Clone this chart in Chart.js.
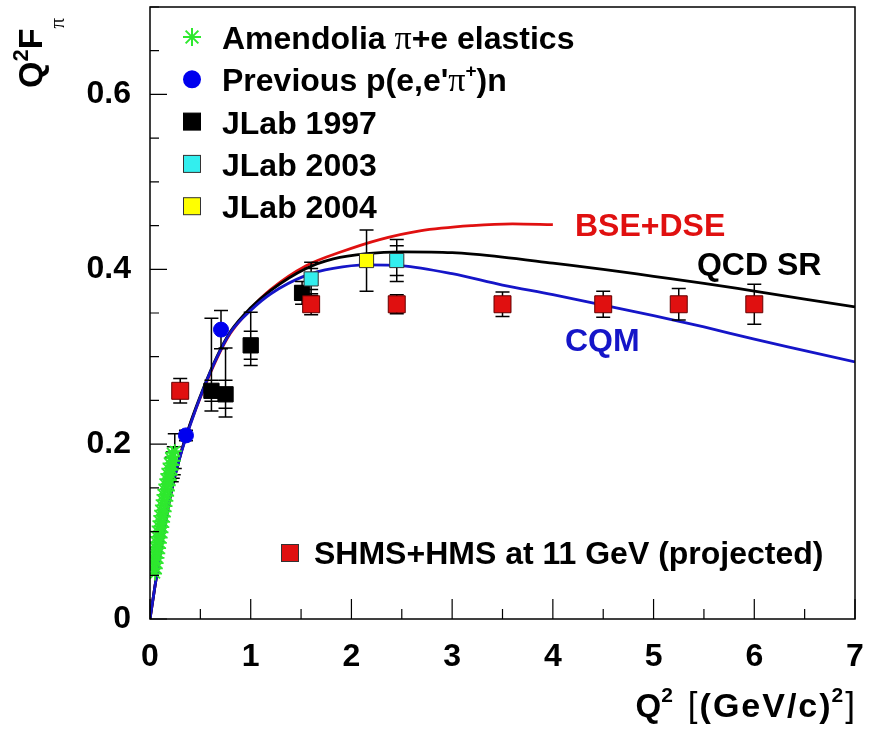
<!DOCTYPE html>
<html>
<head>
<meta charset="utf-8">
<script src="https://cdn.jsdelivr.net/npm/chart.js@4.4.1/dist/chart.umd.min.js"></script>
<style>
  html, body { margin: 0; padding: 0; background: #fff; }
  #chart { display: block; }
</style>
</head>
<body>
<canvas id="chart" width="873" height="735"></canvas>
<script>
// Amendolia pi+e elastics
const amendQ2 = [0.022, 0.050, 0.030, 0.058, 0.038, 0.066, 0.046, 0.074, 0.054, 0.082, 0.062, 0.090, 0.070, 0.098, 0.078, 0.106, 0.086, 0.114, 0.094, 0.122, 0.102, 0.130, 0.110, 0.138, 0.118, 0.146, 0.126, 0.154, 0.134, 0.162, 0.142, 0.170, 0.152, 0.178, 0.162, 0.186, 0.172, 0.196, 0.182, 0.206, 0.194, 0.216, 0.206, 0.226, 0.218, 0.236, 0.230, 0.246];
const amendVal = [0.058, 0.052, 0.064, 0.058, 0.070, 0.064, 0.076, 0.070, 0.082, 0.075, 0.088, 0.081, 0.094, 0.087, 0.100, 0.093, 0.106, 0.099, 0.112, 0.105, 0.118, 0.111, 0.124, 0.117, 0.130, 0.123, 0.136, 0.129, 0.142, 0.135, 0.148, 0.141, 0.154, 0.147, 0.160, 0.153, 0.166, 0.159, 0.172, 0.165, 0.178, 0.171, 0.184, 0.176, 0.190, 0.181, 0.186, 0.192];
const amendErr = [0, 0, 0, 0, 0, 0, 0, 0, 0, 0, 0, 0, 0, 0, 0, 0, 0, 0, 0, 0, 0, 0, 0, 0, 0, 0, 0, 0, 0, 0, 0, 0, 0, 0, 0, 0, 0, 0, 0, 0, 0, 0.014, 0, 0.015, 0, 0.016, 0, 0.02];

// previous p(e,e'pi+)n
const prevQ2 = [0.357, 0.705];
const prevVal = [0.210, 0.331];
const prevErr = [0.006, 0.022];

// JLab 1997
const jlab97Q2 = [0.61, 0.75, 1.0, 1.51];
const jlab97Val = [0.261, 0.257, 0.313, 0.373];
const jlab97ErrUp = [0.083, 0.053, 0.038, 0.013];
const jlab97ErrDown = [0.023, 0.026, 0.023, 0.013];
const jlab97ErrStat = [0.012, 0.016, 0.016, 0.008];

// JLab 2003
const jlab03Q2 = [1.6, 2.45];
const jlab03Val = [0.389, 0.410];
const jlab03Err = [0.019, 0.024];
const jlab03ErrStat = [0.012, 0.017];

// JLab 2004
const jlab04Q2 = [2.15];
const jlab04Val = [0.410];
const jlab04Err = [0.035];

// SHMS+HMS at 11 GeV (projected)
const shmsQ2 = [0.3, 1.6, 2.45, 3.5, 4.5, 5.25, 6.0];
const shmsVal = [0.261, 0.36, 0.36, 0.36, 0.36, 0.36, 0.36];
const shmsErr = [0.014, 0.012, 0.011, 0.014, 0.015, 0.018, 0.023];

// model curves
const bseQ2 = [0, 0.05, 0.1, 0.2, 0.3, 0.4, 0.53, 0.66, 0.8, 1.0, 1.2, 1.55, 1.9, 2.28, 2.68, 3.2, 3.6, 4.0];
const bseVal = [0, 0.038, 0.075, 0.14, 0.187, 0.223, 0.262, 0.297, 0.327, 0.355, 0.377, 0.404, 0.420, 0.434, 0.444, 0.450, 0.452, 0.451];
const curveQ2 = [0, 0.05, 0.1, 0.2, 0.3, 0.4, 0.53, 0.66, 0.8, 1.0, 1.2, 1.55, 1.82, 2.15, 2.5, 3.0, 3.5, 4.0, 4.5, 5.0, 5.5, 6.0, 6.5, 7.0];
const qcdVal = [0, 0.038, 0.075, 0.14, 0.187, 0.224, 0.264, 0.299, 0.329, 0.356, 0.376, 0.401, 0.412, 0.418, 0.420, 0.419, 0.414, 0.407, 0.400, 0.392, 0.384, 0.375, 0.366, 0.357];
const cqmVal = [0, 0.038, 0.075, 0.14, 0.186, 0.222, 0.263, 0.298, 0.328, 0.353, 0.372, 0.393, 0.401, 0.405, 0.404, 0.395, 0.382, 0.371, 0.359, 0.347, 0.334, 0.320, 0.307, 0.294];

const xTicks = { min: 0, max: 7, step: 1 };
const yTicks = { min: 0, max: 0.7, step: 0.05, labelEvery: 0.2 };

const SANS = "'Liberation Sans', Arial, Helvetica, sans-serif";
const SERIF = "'Liberation Serif', 'Times New Roman', serif";
const BOLD = `bold 32px ${SANS}`;
const RED = "#e01010";
const BLUE = "#1515c8";
const GREEN = "#2ee82e";

Chart.defaults.font.family = SANS;
Chart.defaults.color = "#000";

const pts = (xs, ys) => xs.map((x, i) => ({ x, y: ys[i] }));

function richText(ctx, x, y, parts, measureOnly) {
  let cx = x;
  parts.forEach((p) => {
    ctx.font = p.font || BOLD;
    if (!measureOnly) {
      ctx.fillStyle = p.color || "#000";
      ctx.fillText(p.t, cx, y + (p.dy || 0));
    }
    cx += ctx.measureText(p.t).width + (p.gap || 0);
  });
  return cx - x;
}

function drawMarker(ctx, kind, x, y, size) {
  ctx.save();
  ctx.lineWidth = 1;
  if (kind === "star") {
    ctx.strokeStyle = GREEN;
    ctx.lineWidth = 2;
    ctx.beginPath();
    for (let k = 0; k < 4; k++) {
      const a = (k * Math.PI) / 4;
      ctx.moveTo(x - Math.cos(a) * size, y - Math.sin(a) * size);
      ctx.lineTo(x + Math.cos(a) * size, y + Math.sin(a) * size);
    }
    ctx.stroke();
  } else if (kind === "circle") {
    ctx.fillStyle = "#0000ee";
    ctx.beginPath();
    ctx.arc(x, y, size, 0, Math.PI * 2);
    ctx.fill();
  } else {
    ctx.fillStyle = kind;
    ctx.strokeStyle = kind === "#000" ? "#000" : "#333";
    ctx.fillRect(x - size, y - size, size * 2, size * 2);
    ctx.strokeRect(x - size, y - size, size * 2, size * 2);
  }
  ctx.restore();
}

// error bars for one dataset, drawn just before its markers
const errorBars = {
  id: "errorBars",
  beforeDatasetDraw(chart, args) {
    const ds = chart.data.datasets[args.index];
    if (!ds.errUp) return;
    const { ctx, scales: { x, y } } = chart;
    const cap = 7;
    ctx.save();
    ctx.strokeStyle = "#000";
    ctx.lineWidth = 1.5;
    ctx.beginPath();
    ds.data.forEach((p, i) => {
      const up = ds.errUp[i];
      const dn = ds.errDown[i];
      if (!up && !dn) return;
      const px = x.getPixelForValue(p.x);
      const yTop = y.getPixelForValue(p.y + up);
      const yBot = y.getPixelForValue(p.y - dn);
      ctx.moveTo(px, yTop);
      ctx.lineTo(px, yBot);
      const caps = [yTop, yBot];
      if (ds.errStat && ds.errStat[i]) {
        caps.push(y.getPixelForValue(p.y + ds.errStat[i]));
        caps.push(y.getPixelForValue(p.y - ds.errStat[i]));
      }
      caps.forEach((cy) => {
        ctx.moveTo(px - cap, cy);
        ctx.lineTo(px + cap, cy);
      });
    });
    ctx.stroke();
    ctx.restore();
  },
};

const decor = {
  id: "decor",
  afterDraw(chart) {
    const { ctx, chartArea: a, scales: { x, y } } = chart;
    ctx.save();

    // frame and inward ticks
    ctx.strokeStyle = "#000";
    ctx.lineWidth = 1.5;
    ctx.strokeRect(a.left, a.top, a.right - a.left, a.bottom - a.top);
    ctx.lineWidth = 1.2;
    ctx.beginPath();
    for (let k = 0; k <= (xTicks.max - xTicks.min) * 2; k++) {
      const px = x.getPixelForValue(xTicks.min + k * 0.5);
      const len = k % 2 === 0 ? 20 : 10;
      ctx.moveTo(px, a.bottom);
      ctx.lineTo(px, a.bottom - len);
    }
    const nY = Math.round((yTicks.max - yTicks.min) / yTicks.step);
    for (let k = 0; k <= nY; k++) {
      const py = y.getPixelForValue(yTicks.min + k * yTicks.step);
      const len = k % 4 === 0 ? 17 : 9;
      ctx.moveTo(a.left, py);
      ctx.lineTo(a.left + len, py);
    }
    ctx.stroke();

    // legend, top left
    const rows = [
      ["star", [{ t: "Amendolia " }, { t: "\u03c0", font: `34px ${SERIF}` }, { t: "+e elastics" }]],
      ["circle", [{ t: "Previous p(e,e'" }, { t: "\u03c0", font: `34px ${SERIF}` }, { t: "+", font: `bold 19px ${SANS}`, dy: -14 }, { t: ")n" }]],
      ["#000", [{ t: "JLab 1997" }]],
      ["#33eeee", [{ t: "JLab 2003" }]],
      ["#ffff00", [{ t: "JLab 2004" }]],
    ];
    ctx.textBaseline = "alphabetic";
    ctx.textAlign = "left";
    rows.forEach(([kind, parts], i) => {
      const base = 49 + i * 42.3;
      drawMarker(ctx, kind, 192, base - 12, kind === "star" ? 9 : kind === "circle" ? 9 : 8.5);
      richText(ctx, 222, base, parts);
    });

    // projected legend
    drawMarker(ctx, RED, 290, 553, 8.5);
    richText(ctx, 314, 564, [{ t: "SHMS+HMS at 11 GeV (projected)" }]);

    // curve labels
    richText(ctx, x.getPixelForValue(4.22), y.getPixelForValue(0.4377), [{ t: "BSE+DSE", color: RED }]);
    richText(ctx, x.getPixelForValue(5.43), y.getPixelForValue(0.393), [{ t: "QCD SR" }]);
    richText(ctx, x.getPixelForValue(4.12), y.getPixelForValue(0.307), [{ t: "CQM", color: BLUE }]);

    // x axis title, right aligned to frame
    const tf = `bold 34px ${SANS}`;
    const xTitle = [
      { t: "Q", font: `bold 33px ${SANS}` },
      { t: "2", font: `bold 21px ${SANS}`, dy: -15, gap: 15 },
      { t: "[", font: `35px ${SANS}`, gap: 2 },
      { t: "(", font: tf, gap: 2 },
      { t: "G", font: tf, gap: 2 },
      { t: "e", font: tf, gap: 2 },
      { t: "V", font: tf, gap: 2 },
      { t: "/", font: tf, gap: 2 },
      { t: "c", font: tf, gap: 2 },
      { t: ")", font: tf, gap: 1 },
      { t: "2", font: `bold 21px ${SANS}`, dy: -15, gap: 2 },
      { t: "]", font: `35px ${SANS}` },
    ];
    const w = richText(ctx, 0, 0, xTitle, true);
    richText(ctx, a.right - w, 717, xTitle);

    // y axis title, rotated
    ctx.translate(42, 88);
    ctx.rotate(-Math.PI / 2);
    richText(ctx, 0, 0, [
      { t: "Q", font: `bold 34px ${SANS}` },
      { t: "2", font: `bold 22px ${SANS}`, dy: -14 },
      { t: "F", font: `bold 34px ${SANS}` },
      { t: "\u03c0", font: `21px ${SERIF}`, dy: 22 },
    ]);
    ctx.restore();
  },
};

const markerSet = (label, data, style) => Object.assign({ label, data, showLine: false }, style);
const curveSet = (label, xs, ys, color) => ({
  label,
  data: pts(xs, ys),
  showLine: true,
  borderColor: color,
  borderWidth: 2.8,
  pointRadius: 0,
  cubicInterpolationMode: "monotone",
  fill: false,
});

new Chart(document.getElementById("chart"), {
  type: "scatter",
  data: {
    datasets: [
      markerSet("SHMS+HMS at 11 GeV (projected)", pts(shmsQ2, shmsVal), {
        pointStyle: "rect", pointRadius: 12, backgroundColor: RED, borderColor: "#600", borderWidth: 1,
        errUp: shmsErr, errDown: shmsErr,
      }),
      markerSet("JLab 2004", pts(jlab04Q2, jlab04Val), {
        pointStyle: "rect", pointRadius: 10, backgroundColor: "#ffff00", borderColor: "#333", borderWidth: 1,
        errUp: jlab04Err, errDown: jlab04Err,
      }),
      markerSet("JLab 2003", pts(jlab03Q2, jlab03Val), {
        pointStyle: "rect", pointRadius: 10, backgroundColor: "#33eeee", borderColor: "#333", borderWidth: 1,
        errUp: jlab03Err, errDown: jlab03Err, errStat: jlab03ErrStat,
      }),
      markerSet("JLab 1997", pts(jlab97Q2, jlab97Val), {
        pointStyle: "rect", pointRadius: 10.8, backgroundColor: "#000", borderColor: "#000", borderWidth: 1,
        errUp: jlab97ErrUp, errDown: jlab97ErrDown, errStat: jlab97ErrStat,
      }),
      markerSet("Previous p(e,e'\u03c0+)n", pts(prevQ2, prevVal), {
        pointStyle: "circle", pointRadius: 7.5, backgroundColor: "#0000ee", borderColor: "#0000ee", borderWidth: 1,
        errUp: prevErr, errDown: prevErr,
      }),
      markerSet("Amendolia \u03c0+e elastics", pts(amendQ2, amendVal), {
        pointStyle: "star", pointRadius: 7, borderColor: GREEN, backgroundColor: GREEN, borderWidth: 1.8,
        errUp: amendErr, errDown: amendErr,
      }),
      curveSet("CQM", curveQ2, cqmVal, BLUE),
      curveSet("QCD SR", curveQ2, qcdVal, "#000"),
      curveSet("BSE+DSE", bseQ2, bseVal, RED),
    ],
  },
  options: {
    responsive: false,
    animation: false,
    events: [],
    layout: { autoPadding: false, padding: { top: 7, right: 18, left: 0, bottom: 0 } },
    plugins: { legend: { display: false }, tooltip: { enabled: false } },
    scales: {
      x: {
        type: "linear",
        min: xTicks.min,
        max: xTicks.max,
        grid: { display: false, drawTicks: false },
        border: { display: false },
        ticks: {
          stepSize: xTicks.step,
          autoSkip: false,
          maxRotation: 0,
          padding: 19,
          color: "#000",
          font: { size: 32, weight: "bold" },
        },
        afterFit(s) {
          s.height = 116;
          s.paddingLeft = 0;
          s.paddingRight = 0;
        },
      },
      y: {
        type: "linear",
        min: yTicks.min,
        max: yTicks.max,
        grid: { display: false, drawTicks: false },
        border: { display: false },
        ticks: {
          stepSize: yTicks.step,
          autoSkip: false,
          padding: 19,
          color: "#000",
          font: { size: 32, weight: "bold" },
          callback(v) {
            const r = v / yTicks.labelEvery;
            return Math.abs(r - Math.round(r)) < 1e-6 ? String(+v.toFixed(1)) : null;
          },
        },
        afterFit(s) {
          s.width = 150;
          s.paddingTop = 0;
          s.paddingBottom = 0;
        },
      },
    },
  },
  plugins: [errorBars, decor],
});
</script>
</body>
</html>
